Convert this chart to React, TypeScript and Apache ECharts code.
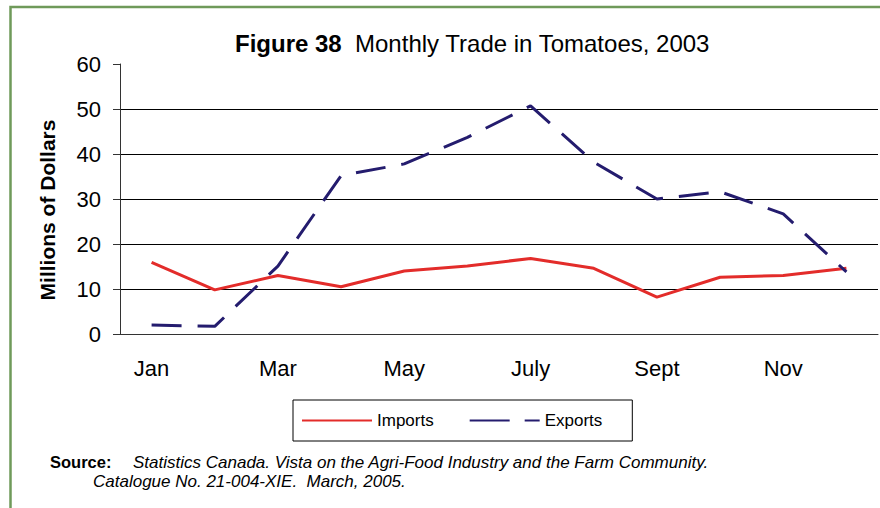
import React, { useEffect, useRef } from "react";
import * as echarts from "echarts";

const months = ["Jan", "Feb", "Mar", "Apr", "May", "Jun", "July", "Aug", "Sept", "Oct", "Nov", "Dec"];
const imports = [15.9, 9.8, 13.0, 10.5, 14.0, 15.1, 16.8, 14.6, 8.2, 12.6, 13.0, 14.6];
const exports = [2.0, 1.7, 15.1, 35.2, 37.8, 43.7, 50.7, 38.2, 30.0, 31.6, 26.7, 13.8];
const yTicks = { min: 0, max: 60, interval: 10 };

const FONT = "'Liberation Sans', Arial, Helvetica, sans-serif";
const RED = "#E32C2A";
const NAVY = "#241C6E";

export default function App() {
  const ref = useRef<HTMLDivElement>(null);
  useEffect(() => {
    if (!ref.current) return;
    const chart = echarts.init(ref.current, undefined, { renderer: "svg" });
    chart.setOption({
      animation: false,
      backgroundColor: "#ffffff",
      textStyle: { fontFamily: FONT },
      title: {
        text: "{b|Figure 38}  Monthly Trade in Tomatoes, 2003",
        left: 235,
        top: 31,
        padding: 0,
        textStyle: {
          fontFamily: FONT,
          fontSize: 24,
          fontWeight: "normal",
          color: "#000",
          rich: { b: { fontFamily: FONT, fontSize: 24, fontWeight: "bold", color: "#000" } },
        },
      },
      grid: { left: 120, top: 64, right: 2, bottom: 174, containLabel: false },
      xAxis: {
        type: "category",
        data: months,
        boundaryGap: true,
        axisLine: { show: true, lineStyle: { color: "#333", width: 1 } },
        axisTick: { show: false },
        axisLabel: { interval: 1, margin: 23, fontSize: 22, color: "#000", fontFamily: FONT },
        splitLine: { show: false },
      },
      yAxis: {
        type: "value",
        min: yTicks.min,
        max: yTicks.max,
        interval: yTicks.interval,
        axisLine: { show: true, lineStyle: { color: "#333", width: 1 } },
        axisTick: { show: true, inside: false, length: 7, lineStyle: { color: "#333" } },
        axisLabel: { margin: 19, fontSize: 22, color: "#000", fontFamily: FONT },
        splitLine: { show: true, showMaxLine: false, lineStyle: { color: "#000", width: 1 } },
      },
      legend: {
        left: 293,
        top: 400,
        orient: "horizontal",
        padding: [12, 30, 12, 8],
        itemGap: 35,
        itemWidth: 70,
        itemHeight: 14,
        itemStyle: { opacity: 0 },
        borderColor: "#000",
        borderWidth: 1,
        textStyle: { fontSize: 17, color: "#000", fontFamily: FONT },
        data: [
          { name: "Imports" },
          { name: "Exports", lineStyle: { type: [40, 15] } },
        ],
      },
      series: [
        {
          name: "Imports",
          type: "line",
          data: imports,
          symbol: "none",
          lineStyle: { color: RED, width: 3 },
          itemStyle: { color: RED },
        },
        {
          name: "Exports",
          type: "line",
          data: exports,
          symbol: "none",
          lineStyle: { color: NAVY, width: 3, type: [30, 16] },
          itemStyle: { color: NAVY },
        },
      ],
      graphic: [
        {
          type: "rect",
          shape: { x: 10.5, y: 7, width: 1000, height: 700 },
          style: { fill: "none", stroke: "#6F9A5A", lineWidth: 2.5 },
          silent: true,
        },
        {
          type: "text",
          x: 47.5,
          y: 210,
          rotation: Math.PI / 2,
          style: {
            text: "Millions of Dollars",
            fontFamily: FONT,
            fontSize: 21,
            fontWeight: "bold",
            fill: "#000",
            align: "center",
            verticalAlign: "middle",
          },
        },
        {
          type: "text",
          x: 50,
          y: 462,
          style: {
            text: "Source:",
            fontFamily: FONT,
            fontSize: 16.5,
            fontWeight: "bold",
            fill: "#000",
            verticalAlign: "middle",
          },
        },
        {
          type: "text",
          x: 133,
          y: 462,
          style: {
            text: "Statistics Canada. Vista on the Agri-Food Industry and the Farm Community.",
            fontFamily: FONT,
            fontSize: 17,
            fontStyle: "italic",
            fill: "#000",
            verticalAlign: "middle",
          },
        },
        {
          type: "text",
          x: 93,
          y: 481,
          style: {
            text: "Catalogue No. 21-004-XIE.  March, 2005.",
            fontFamily: FONT,
            fontSize: 17,
            fontStyle: "italic",
            fill: "#000",
            verticalAlign: "middle",
          },
        },
      ],
    });
    return () => chart.dispose();
  }, []);
  return (
    <div
      ref={ref}
      style={{ position: "fixed", left: 0, top: 0, width: 880, height: 508 }}
    />
  );
}
